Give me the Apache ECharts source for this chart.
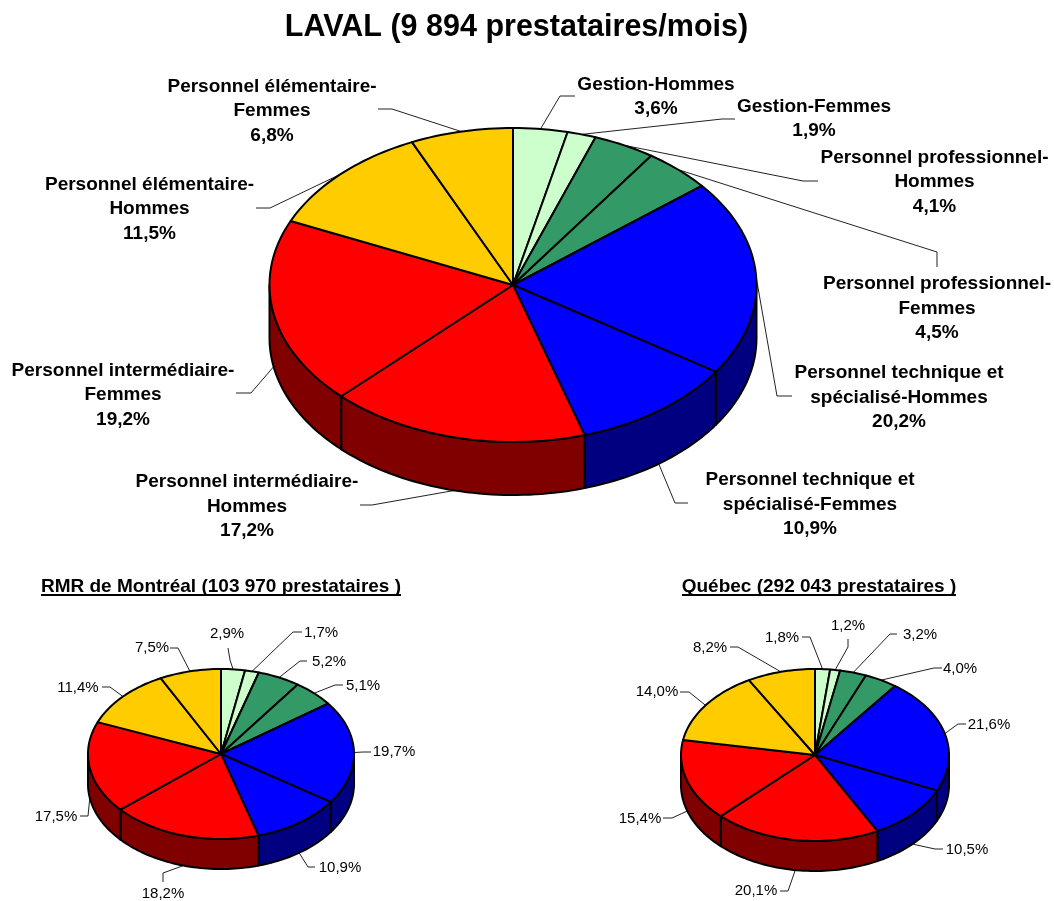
<!DOCTYPE html>
<html>
<head>
<meta charset="utf-8">
<style>html,body{margin:0;padding:0;background:#fff}#c{width:1054px;height:901px}</style>
<script src="https://cdn.jsdelivr.net/npm/echarts@6/dist/echarts.min.js"></script>
</head>
<body>
<div id="c"></div>
<script>
const categories = ['Gestion-Hommes','Gestion-Femmes','Personnel professionnel-Hommes','Personnel professionnel-Femmes','Personnel technique et spécialisé-Hommes','Personnel technique et spécialisé-Femmes','Personnel intermédiaire-Hommes','Personnel intermédiaire-Femmes','Personnel élémentaire-Hommes','Personnel élémentaire-Femmes'];
const lavalValues = [3.6,1.9,4.1,4.5,20.2,10.9,17.2,19.2,11.5,6.8];
const montrealValues = [2.9,1.7,5.2,5.1,19.7,10.9,18.2,17.5,11.4,7.5];
const quebecValues = [1.8,1.2,3.2,4.0,21.6,10.5,20.1,15.4,14.0,8.2];
const lavalLabelLines = [
  ['Gestion-Hommes'],['Gestion-Femmes'],['Personnel professionnel-','Hommes'],['Personnel professionnel-','Femmes'],
  ['Personnel technique et','spécialisé-Hommes'],['Personnel technique et','spécialisé-Femmes'],
  ['Personnel intermédiaire-','Hommes'],['Personnel intermédiaire-','Femmes'],['Personnel élémentaire-','Hommes'],['Personnel élémentaire-','Femmes']];
const titles = ['LAVAL (9 894 prestataires/mois)','RMR de Montréal (103 970 prestataires )','Québec (292 043 prestataires )'];

const topColors = ['#CCFFCC','#CCFFCC','#339966','#339966','#0000FF','#0000FF','#FF0000','#FF0000','#FFCC00','#FFCC00'];
const wallColors = ['#669966','#669966','#1A4D33','#1A4D33','#000080','#000080','#800000','#800000','#806600','#806600'];

// Layout only: label centre, leader end and elbow for each slice
const lavalLayout = [
  {c:[656,97],e:[575,96],k:[560,96]},{c:[814,119],e:[735,119],k:[722,119]},
  {c:[934.5,182],e:[818,181],k:[803,181]},{c:[937,308.5],e:[937,267],k:[937,252]},
  {c:[899,397.5],e:[792,396],k:[777,396]},{c:[810,504.5],e:[688,503],k:[675,503]},
  {c:[247,506.5],e:[360,505],k:[372,505]},{c:[123,395],e:[236,393],k:[251,393]},
  {c:[149.5,209],e:[256,208],k:[270,208]},{c:[272,111],e:[378,109],k:[392,109]}];
const montrealLayout = [
  {c:[227,634],e:[228,648],k:[230,660]},{c:[321,633],e:[302,632],k:[293,632]},
  {c:[329,662],e:[307,661],k:[300,661]},{c:[363,686],e:[343,685],k:[335,685]},
  {c:[394,752],e:[371,752],k:[363,752]},{c:[340,868],e:[315,867],k:[308,867]},
  {c:[163,894],e:[163,882],k:[163,873]},{c:[56,817],e:[80,816],k:[88,816]},
  {c:[78,688],e:[102,687],k:[110,687]},{c:[152,648],e:[170,648],k:[178,648]}];
const quebecLayout = [
  {c:[782,638],e:[802,637],k:[810,637]},{c:[848,626],e:[848,639],k:[848,647]},
  {c:[920,635],e:[897,634],k:[890,634]},{c:[960,669],e:[942,668],k:[934,668]},
  {c:[989,725],e:[966,724],k:[958,724]},{c:[967,850],e:[943,849],k:[935,849]},
  {c:[756,891],e:[780,891],k:[788,891]},{c:[640,819],e:[663,818],k:[672,818]},
  {c:[657,692],e:[680,692],k:[689,692]},{c:[710,648],e:[730,647],k:[738,647]}];

const FONT = '"Liberation Sans", Arial, sans-serif';
const fmt = v => v.toFixed(1).replace('.', ',') + '%';

function pieSeries(name, values, geo, layout, labelFor, fontSize, fontWeight, lineHeight) {
  const total = values.reduce((a, b) => a + b, 0);
  const rad = d => d * Math.PI / 180;
  const rim = (a, dy) => [geo.cx + geo.rx * Math.sin(rad(a)), geo.cy - geo.ry * Math.cos(rad(a)) + (dy || 0)];
  const arc = (a0, a1, dy) => {
    const n = Math.max(2, Math.ceil((a1 - a0) / 1.5)), pts = [];
    for (let i = 0; i <= n; i++) pts.push(rim(a0 + (a1 - a0) * i / n, dy));
    return pts;
  };
  return {
    type: 'custom', name, coordinateSystem: 'none', silent: true, clip: false,
    data: values.map(v => [v]),
    renderItem(params, api) {
      const i = params.dataIndex;
      const v = api.value(0);
      let before = 0;
      for (let j = 0; j < i; j++) before += values[j];
      const a0 = before / total * 360, a1 = (before + v) / total * 360, mid = (a0 + a1) / 2;
      const children = [];
      const w0 = Math.max(a0, 90), w1 = Math.min(a1, 270);
      if (w1 > w0) {
        const top = arc(w0, w1, 0), bottom = arc(w0, w1, geo.depth).reverse();
        children.push({type:'polygon', z2:1, shape:{points: top.concat(bottom)},
          style:{fill: wallColors[i], stroke:'#000', lineWidth:geo.line, lineJoin:'round'}});
      }
      children.push({type:'polygon', z2:2, shape:{points: [[geo.cx, geo.cy]].concat(arc(a0, a1, 0))},
        style:{fill: topColors[i], stroke:'#000', lineWidth:geo.line, lineJoin:'round'}});
      const L = layout[i];
      const start = rim(mid, mid > 90 && mid < 270 ? geo.depth : 0);
      children.push({type:'polyline', z2:0, shape:{points:[start, L.k, L.e]},
        style:{fill:null, stroke:'#222', lineWidth:1}});
      children.push({type:'text', z2:3, x:L.c[0], y:L.c[1], style:{
        text: labelFor(i, v), align:'center', verticalAlign:'middle',
        fontFamily: FONT, fontSize, fontWeight, lineHeight, fill:'#000'}});
      return {type:'group', children};
    }
  };
}

const chart = echarts.init(document.getElementById('c'), null, {renderer:'canvas', width:1054, height:901});
chart.setOption({
  animation:false,
  backgroundColor:'#fff',
  title:[
    {text:titles[0], left:511.5, top:7, textAlign:'center', textStyle:{fontFamily:FONT,fontSize:30.5,fontWeight:'bold',color:'#000'}},
    {text:titles[1], left:216, top:572, textAlign:'center', textStyle:{fontFamily:FONT,fontSize:19,fontWeight:'bold',color:'#000'}},
    {text:titles[2], left:814, top:572, textAlign:'center', textStyle:{fontFamily:FONT,fontSize:19,fontWeight:'bold',color:'#000'}}
  ],
  graphic:[
    {type:'line',shape:{x1:41,y1:595,x2:401,y2:595},style:{stroke:'#000',lineWidth:2}},
    {type:'line',shape:{x1:682,y1:595,x2:956,y2:595},style:{stroke:'#000',lineWidth:2}}
  ],
  series:[
    pieSeries('LAVAL', lavalValues, {cx:513,cy:285,rx:243.5,ry:157,depth:53,line:2}, lavalLayout,
      (i,v)=>lavalLabelLines[i].concat([fmt(v)]).join('\n'), 19, 'bold', 24.5),
    pieSeries('RMR de Montréal', montrealValues, {cx:221,cy:754,rx:133,ry:85,depth:30,line:2}, montrealLayout,
      (i,v)=>fmt(v), 15, 'normal', 16),
    pieSeries('Québec', quebecValues, {cx:815,cy:755,rx:134,ry:86,depth:30,line:2}, quebecLayout,
      (i,v)=>fmt(v), 15, 'normal', 16)
  ]
});
</script>
</body>
</html>
